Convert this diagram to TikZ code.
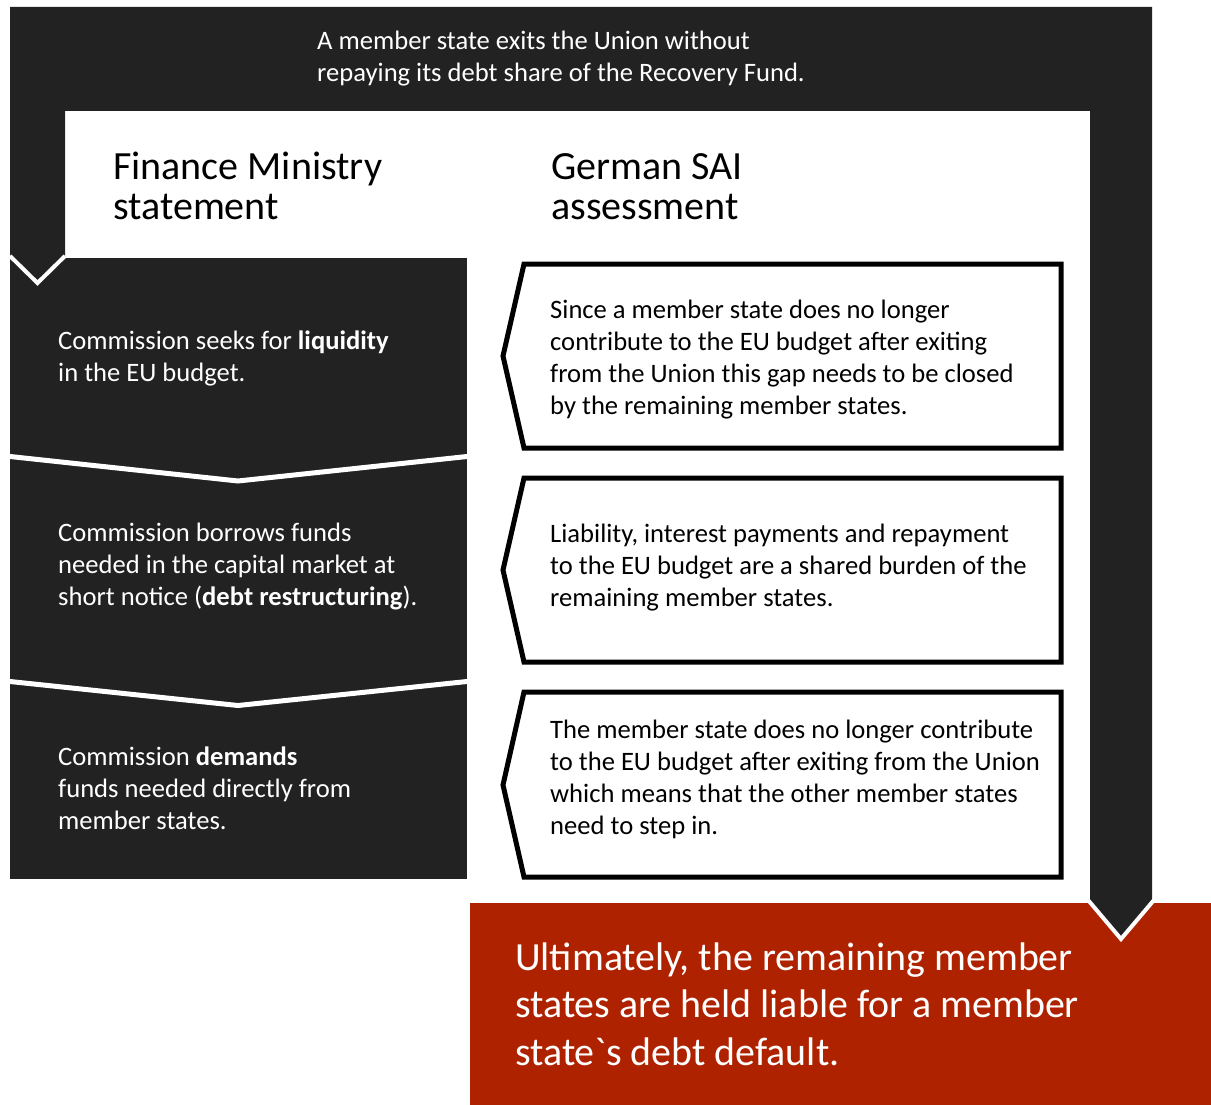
\documentclass[tikz,border=0pt]{standalone}
\usepackage{fontspec}
\setmainfont{Carlito}
\definecolor{dark}{HTML}{222222}
\definecolor{redbox}{RGB}{175,34,0}
\begin{document}
\begin{tikzpicture}[x=1pt,y=-1pt,
  txt/.style={align=left, inner sep=0pt, anchor=base west},
  body/.style={txt, font=\fontsize{26.6}{32}\selectfont},
  head/.style={txt, font=\fontsize{40}{40}\selectfont, text=black},
  big/.style={txt, font=\fontsize{39.9}{47.5}\selectfont, text=white},
  sep/.style={white, line width=5pt, line join=miter},
  tipline/.style={white, line width=4pt, line join=miter},
  chev/.style={draw=black, fill=white, line width=5pt, line join=miter}]
\useasboundingbox[fill=white] (0,0) rectangle (1211,1105);
% big frame arrow
\fill[dark] (10,7) -- (1152,7) -- (1152,903) -- (1090,903) -- (1090,111)
  -- (65,111) -- (65,258) -- (10,258) -- cycle;
% left column boxes
\fill[dark] (10,258) rectangle (467,879);
\draw[sep] (10,456.5) -- (238,481) -- (467,456.5);
\draw[sep] (10,681.5) -- (238,705.5) -- (467,681.5);
% left arrow tip
\fill[dark] (10,256) -- (37.5,283) -- (65,256) -- cycle;
\draw[tipline] (10,256) -- (37.5,283) -- (65,256);
% red result box
\fill[redbox] (470,903) rectangle (1211,1105);
% right arrow tip
\fill[dark] (1090,901) -- (1121,938) -- (1152,901) -- cycle;
\draw[tipline] (1088,900) -- (1121,939) -- (1154,900);
% right chevron boxes
\draw[chev] (524,264) -- (1061,264) -- (1061,448) -- (524,448) -- (503,356) -- cycle;
\draw[chev] (524,478) -- (1061,478) -- (1061,662) -- (524,662) -- (503,570) -- cycle;
\draw[chev] (524,692) -- (1061,692) -- (1061,877) -- (524,877) -- (503,785) -- cycle;
% texts (anchored at the baseline of the last line)
\node[body, text=white] (top) at (317,81.3) {A member state exits the Union without\\repaying its debt share of the Recovery Fund.};
\node[head] (fm) at (113,219.5) {Finance Ministry\\statement};
\node[head] (sai) at (551,219.5) {German SAI\\assessment};
\node[body, text=white] (l1) at (58,381) {Commission seeks for \textbf{liquidity}\\in the EU budget.};
\node[body, text=white] (l2) at (58,605) {Commission borrows funds\\needed in the capital market at\\short notice (\textbf{debt restructuring}).};
\node[body, text=white] (l3) at (58,829) {Commission \textbf{demands}\\funds needed directly from\\member states.};
\node[body, text=black] (r1) at (550,414) {Since a member state does no longer\\contribute to the EU budget after exiting\\from the Union this gap needs to be closed\\by the remaining member states.};
\node[body, text=black] (r2) at (550,606) {Liability, interest payments and repayment\\to the EU budget are a shared burden of the\\remaining member states.};
\node[body, text=black] (r3) at (550,834) {The member state does no longer contribute\\to the EU budget after exiting from the Union\\which means that the other member states\\need to step in.};
\node[big] (res) at (515,1065) {Ultimately, the remaining member\\states are held liable for a member\\state\textasciigrave s debt default.};
\end{tikzpicture}
\end{document}
